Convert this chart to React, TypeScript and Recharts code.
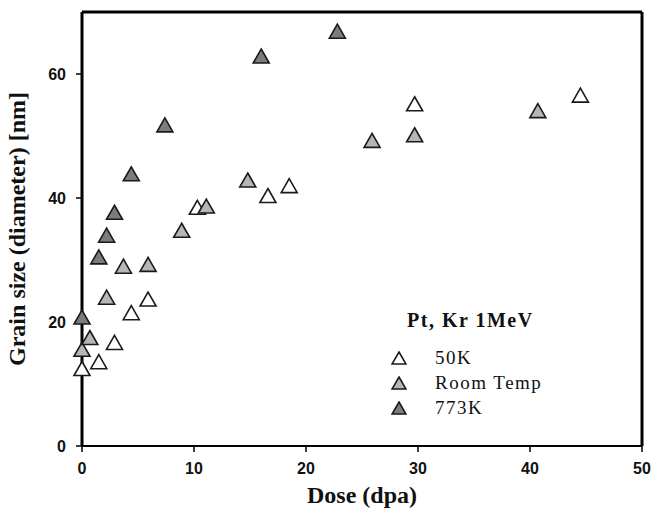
import {
  ScatterChart,
  Scatter,
  XAxis,
  YAxis,
  ReferenceLine,
} from "recharts";

// Dose (dpa) vs grain size (nm)
const dose50K = [0, 1.5, 2.9, 4.4, 5.9, 10.3, 16.6, 18.5, 29.7, 44.5];
const size50K = [12.5, 13.6, 16.7, 21.5, 23.7, 38.5, 40.4, 42, 55.2, 56.6];

const doseRoom = [0, 0.7, 2.2, 3.7, 5.9, 8.9, 11.1, 14.8, 25.9, 29.7, 40.7];
const sizeRoom = [15.6, 17.5, 24, 29, 29.3, 34.8, 38.7, 42.9, 49.3, 50.2, 54.1];

const dose773K = [0, 1.5, 2.2, 2.9, 4.4, 7.4, 16, 22.8];
const size773K = [20.8, 30.5, 34, 37.7, 43.9, 51.8, 62.9, 66.9];

const xTicks = [0, 10, 20, 30, 40, 50];
const yTicks = [0, 20, 40, 60];

const toPoints = (xs: number[], ys: number[]) =>
  xs.map((x, i) => ({ x, y: ys[i] }));

const series = [
  { name: "50K", fill: "#ffffff", data: toPoints(dose50K, size50K) },
  { name: "Room Temp", fill: "#b6b6b6", data: toPoints(doseRoom, sizeRoom) },
  { name: "773K", fill: "#7c7c7c", data: toPoints(dose773K, size773K) },
];

const STROKE = "#1a1a1a";

function Triangle({ cx, cy, fill, w = 16, h = 14 }: any) {
  if (cx == null || cy == null) return null;
  const pts = `${cx},${cy - h / 2} ${cx + w / 2},${cy + h / 2} ${cx - w / 2},${cy + h / 2}`;
  return <polygon points={pts} fill={fill} stroke={STROKE} strokeWidth={1.6} />;
}

// legend drawn as an overlay so it doesn't eat into the plot area
function LegendBox() {
  return (
    <div
      style={{
        position: "absolute",
        left: 391,
        top: 306,
        fontFamily: "'Liberation Serif', serif",
        color: "#111",
      }}
    >
      <div
        style={{
          fontWeight: "bold",
          fontSize: 20,
          lineHeight: "28px",
          marginLeft: 16,
          letterSpacing: 1.5,
          whiteSpace: "nowrap",
        }}
      >
        Pt, Kr 1MeV
      </div>
      <div style={{ height: 11 }} />
      {series.map((s) => (
        <div key={s.name} style={{ display: "flex", alignItems: "center", height: 25 }}>
          <svg width={16} height={14} style={{ display: "block" }}>
            <Triangle cx={8} cy={7} w={14} h={12} fill={s.fill} />
          </svg>
          <span style={{ marginLeft: 28, fontSize: 19, letterSpacing: 1.5, whiteSpace: "nowrap" }}>
            {s.name}
          </span>
        </div>
      ))}
    </div>
  );
}

const tickStyle = {
  fontFamily: "'Liberation Sans', Arial, sans-serif",
  fontWeight: "bold",
  fontSize: 16,
  fill: "#111",
};

const titleStyle = {
  fontFamily: "'Liberation Serif', serif",
  fontWeight: "bold",
  fontSize: 24,
  fill: "#111",
};

export default function App() {
  return (
    <div style={{ position: "absolute", left: 0, top: 0, width: 652, height: 508, background: "#fff" }}>
      <ScatterChart
        width={652}
        height={508}
        margin={{ top: 12, right: 10, bottom: 0, left: 0 }}
      >
        <XAxis
          type="number"
          dataKey="x"
          domain={[0, 50]}
          ticks={xTicks}
          height={62}
          tick={tickStyle}
          tickSize={6}
          tickMargin={11}
          axisLine={{ stroke: "#000", strokeWidth: 2 }}
          tickLine={{ stroke: "#000", strokeWidth: 1.5 }}
          label={{
            content: ({ viewBox }: any) => (
              <text
                x={viewBox.x + viewBox.width / 2}
                y={503}
                textAnchor="middle"
                style={titleStyle}
              >
                Dose (dpa)
              </text>
            ),
          }}
        />
        <YAxis
          type="number"
          dataKey="y"
          domain={[0, 70]}
          ticks={yTicks}
          width={82}
          tick={tickStyle}
          tickSize={6}
          tickMargin={10}
          axisLine={{ stroke: "#000", strokeWidth: 3 }}
          tickLine={{ stroke: "#000", strokeWidth: 1.5 }}
          label={{
            content: ({ viewBox }: any) => {
              const x = 25;
              const y = viewBox.y + viewBox.height / 2;
              return (
                <text
                  x={x}
                  y={y}
                  textAnchor="middle"
                  transform={`rotate(-90, ${x}, ${y})`}
                  style={titleStyle}
                >
                  Grain size (diameter) [nm]
                </text>
              );
            },
          }}
        />
        <ReferenceLine y={70} stroke="#000" strokeWidth={3} />
        <ReferenceLine x={50} stroke="#000" strokeWidth={3} />
        {series.map((s) => (
          <Scatter
            key={s.name}
            name={s.name}
            data={s.data}
            fill={s.fill}
            isAnimationActive={false}
            shape={(p: any) => <Triangle cx={p.cx} cy={p.cy} fill={s.fill} />}
          />
        ))}
      </ScatterChart>
      <LegendBox />
    </div>
  );
}
